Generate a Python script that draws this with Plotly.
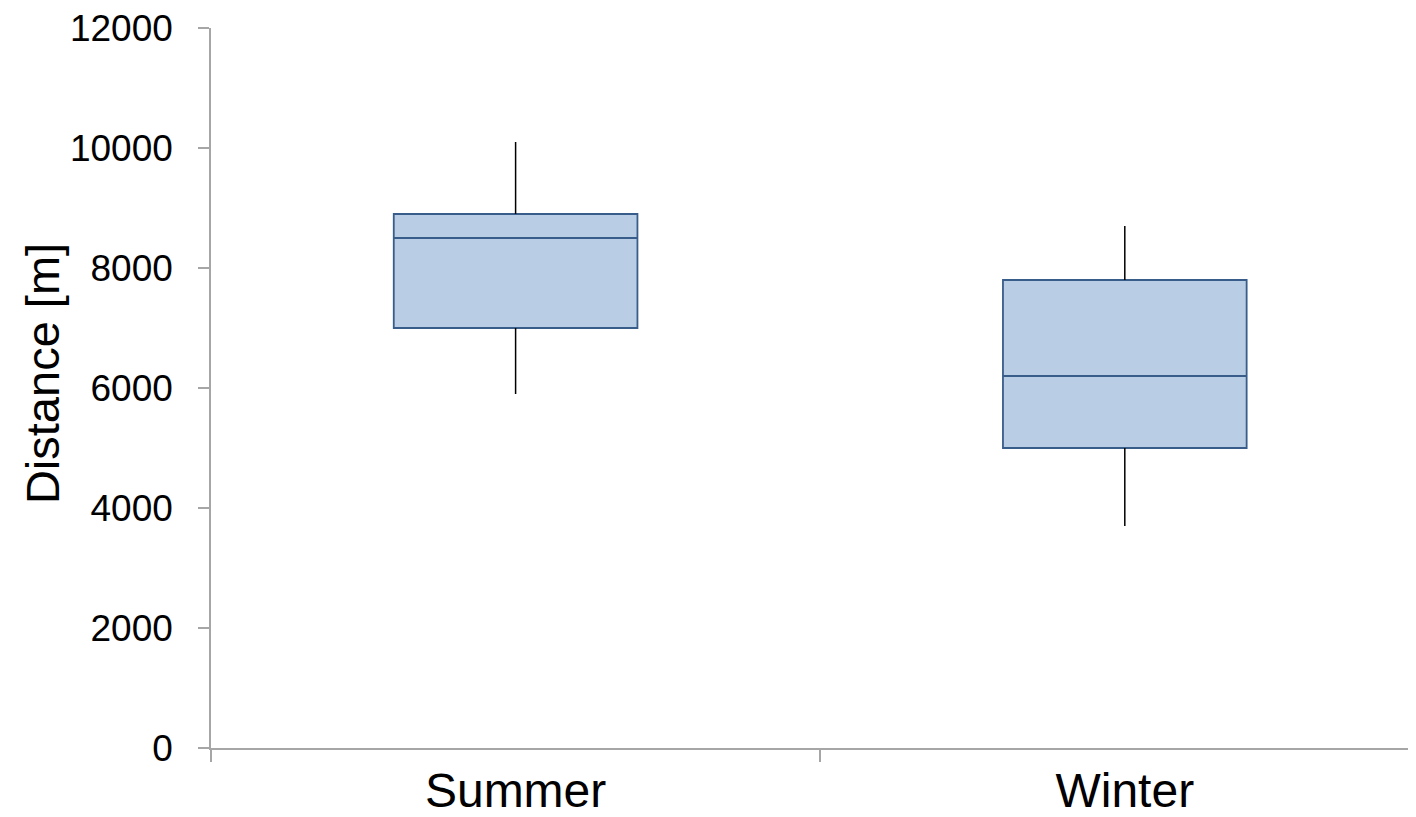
import plotly.graph_objects as go

categories = ["Summer", "Winter"]
lower_whisker = [5900, 3700]
q1_values = [7000, 5000]
median_values = [8500, 6200]
q3_values = [8900, 7800]
upper_whisker = [10100, 8700]
y_tick_values = [0, 2000, 4000, 6000, 8000, 10000, 12000]
y_tick_labels = [str(v) for v in y_tick_values]

fig = go.Figure()

# whiskers (black)
wx, wy = [], []
for c, lo, q1, q3, hi in zip(categories, lower_whisker, q1_values, q3_values, upper_whisker):
    wx += [c, c, None, c, c, None]
    wy += [q3, hi, None, q1, lo, None]
fig.add_trace(go.Scatter(x=wx, y=wy, mode="lines", line=dict(color="black", width=1.5),
                         showlegend=False, hoverinfo="skip"))

fig.add_trace(go.Box(
    x=categories,
    q1=q1_values, median=median_values, q3=q3_values,
    lowerfence=q1_values, upperfence=q3_values,
    fillcolor="#B9CDE5",
    line=dict(color="#385D8A", width=1.8),
    width=0.4, whiskerwidth=0, boxpoints=False,
    showlegend=False,
))

axis_gray = "#A6A6A6"
fig.update_layout(
    width=1408, height=809,
    margin=dict(l=203, r=0, t=20, b=55),
    plot_bgcolor="white", paper_bgcolor="white",
    font=dict(family="Liberation Sans, Arial, sans-serif", color="black"),
    xaxis=dict(
        type="category", categoryorder="array", categoryarray=categories,
        range=[-0.5, 1.478], showline=True, linecolor=axis_gray, linewidth=1.5,
        ticks="outside", tickson="boundaries", ticklen=12, tickcolor=axis_gray, tickwidth=1.5,
        showgrid=False, zeroline=False, tickfont=dict(size=48), ticklabelstandoff=0,
        ticklabeloverflow="allow",
    ),
    yaxis=dict(
        range=[0, 12000], tickvals=y_tick_values, ticktext=y_tick_labels,
        showline=True, linecolor=axis_gray, linewidth=1.5,
        ticks="outside", ticklen=11, tickcolor=axis_gray, tickwidth=1.5,
        showgrid=False, zeroline=False, tickfont=dict(size=37), ticklabelstandoff=18,
        ticklabeloverflow="allow",
    ),
    annotations=[dict(
        text="Distance [m]", textangle=-90, showarrow=False,
        xref="paper", yref="paper", x=-0.1402, y=0.5194,
        xanchor="center", yanchor="middle", font=dict(size=47),
    )],
)

fig.write_html("out.html")
